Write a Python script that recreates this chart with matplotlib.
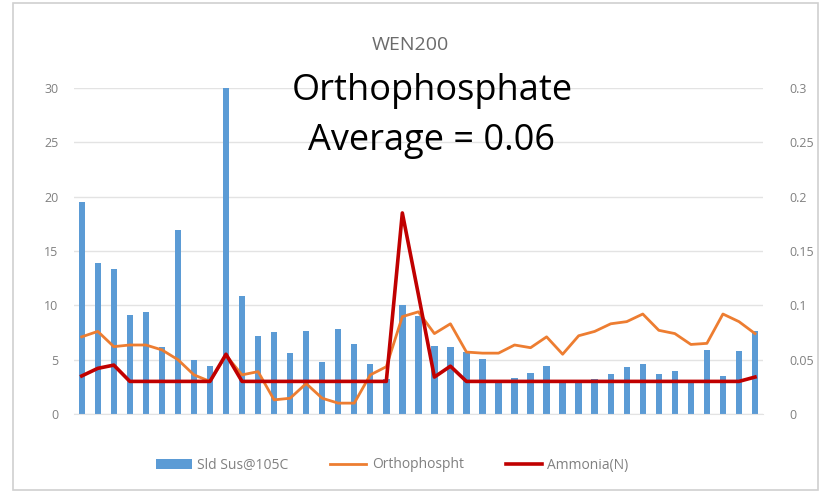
import matplotlib
matplotlib.use("Agg")
import matplotlib.pyplot as plt
from matplotlib.patches import Rectangle

plt.rcParams['font.family'] = ['Open Sans', 'DejaVu Sans']

# data (43 samples)
sld_sus = [19.5, 13.9, 13.3, 9.1, 9.4, 6.2, 16.9, 5.0, 4.4, 30.0,
           10.9, 7.2, 7.5, 5.6, 7.6, 4.8, 7.8, 6.4, 4.6, 3.2,
           10.0, 9.0, 6.3, 6.2, 5.7, 5.1, 2.9, 3.3, 3.8, 4.4,
           3.0, 2.9, 3.2, 3.65, 4.35, 4.6, 3.65, 4.0, 3.0, 5.9,
           3.5, 5.8, 7.6]
orthophos = [0.071, 0.076, 0.062, 0.0635, 0.0635, 0.059, 0.050, 0.036, 0.030, 0.054,
             0.036, 0.039, 0.013, 0.0145, 0.028, 0.0145, 0.010, 0.010, 0.036, 0.0435,
             0.0896, 0.094, 0.074, 0.083, 0.057, 0.056, 0.056, 0.0635, 0.061, 0.071,
             0.055, 0.072, 0.076, 0.083, 0.085, 0.092, 0.077, 0.074, 0.064, 0.065,
             0.092, 0.085, 0.074]
ammonia = [0.035, 0.042, 0.045, 0.03, 0.03, 0.03, 0.03, 0.03, 0.03, 0.055,
           0.03, 0.03, 0.03, 0.03, 0.03, 0.03, 0.03, 0.03, 0.03, 0.03,
           0.185, 0.11, 0.034, 0.044, 0.03, 0.03, 0.03, 0.03, 0.03, 0.03,
           0.03, 0.03, 0.03, 0.03, 0.03, 0.03, 0.03, 0.03, 0.03, 0.03,
           0.03, 0.03, 0.034]
left_ticks = [0, 5, 10, 15, 20, 25, 30]
right_ticks = [0, 0.05, 0.1, 0.15, 0.2, 0.25, 0.3]
right_labels = ['0', '0.05', '0.1', '0.15', '0.2', '0.25', '0.3']

x = list(range(len(sld_sus)))
grey = '#808080'

fig = plt.figure(figsize=(8.2, 4.97), dpi=100)
ax = fig.add_axes([0.0899, 0.167, 0.8406, 0.656])
ax2 = ax.twinx()

bars = ax.bar(x, sld_sus, width=0.4, color='#5B9BD5', label='Sld Sus@105C', zorder=2)
l1, = ax2.plot(x, orthophos, color='#ED7D31', lw=2.0, label='Orthophospht')
l2, = ax2.plot(x, ammonia, color='#C00000', lw=2.6, label='Ammonia(N)')

ax.set_xlim(-0.5, len(x) - 0.5)
ax.set_ylim(0, 30)
ax2.set_ylim(0, 0.3)
ax.set_yticks(left_ticks)
ax2.set_yticks(right_ticks)
ax2.set_yticklabels(right_labels)
ax.set_xticks([])
ax.yaxis.grid(True, color='#e3e3e3', lw=1, zorder=0)
ax.set_axisbelow(True)
for a in (ax, ax2):
    for s in a.spines.values():
        s.set_visible(False)
ax.spines['bottom'].set_visible(True)
ax.spines['bottom'].set_color('#e3e3e3')
ax.tick_params(axis='y', length=0, pad=11, labelsize=9, labelcolor=grey)
ax2.tick_params(axis='y', length=0, pad=19, labelsize=9, labelcolor=grey)

fig.text(0.5, 1 - 45 / 497, 'WEN200', ha='center', va='center', fontsize=14, color='#6b6b6b')
fig.text(432 / 820, 1 - 116 / 497, 'Orthophosphate\nAverage = 0.06', ha='center', va='center',
         fontsize=26, color='black', linespacing=1.55, multialignment='center')

fig.legend(handles=[bars, l1, l2], loc='center', bbox_to_anchor=(392 / 820, 1 - 465 / 497),
           ncol=3, frameon=False, fontsize=10, labelcolor=grey, handlelength=2.6,
           handletextpad=0.4, columnspacing=3.0)

fig.patches.append(Rectangle((13 / 820, 7 / 497), 805 / 820, 487 / 497, transform=fig.transFigure,
                             fill=False, edgecolor='#d0d0d0', lw=1.2))

fig.savefig('out.png', dpi=100)
